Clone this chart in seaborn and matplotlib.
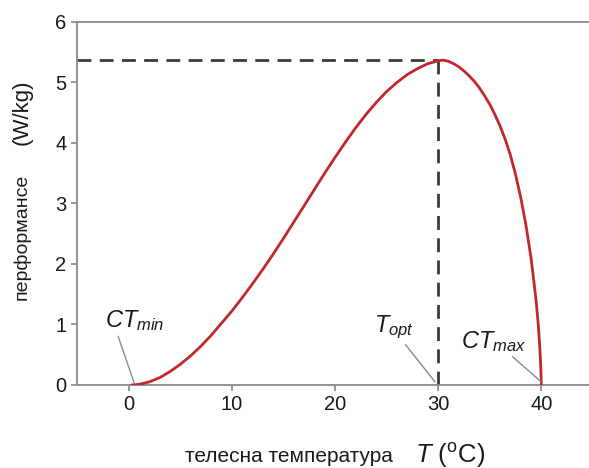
import matplotlib
matplotlib.use("Agg")
import matplotlib.pyplot as plt
import pandas as pd
import seaborn as sns

# curve
temperature = [0.3, 1, 2, 3, 4, 5, 6, 7, 8, 9, 10, 11, 12, 13, 14, 15, 16, 17, 18, 19,
               20, 21, 22, 23, 24, 25, 26, 27, 28, 29, 30, 30.5, 31, 31.5, 32, 32.5,
               33, 33.5, 34, 34.5, 35, 35.5, 36, 36.5, 37, 37.5, 38, 38.5, 39, 39.25,
               39.5, 39.7, 39.85, 39.95, 40.0]
performance = [0.0, 0.01, 0.05, 0.12, 0.22, 0.34, 0.48, 0.64, 0.82, 1.02, 1.22, 1.44,
               1.67, 1.91, 2.16, 2.42, 2.69, 2.96, 3.23, 3.50, 3.76, 4.01, 4.25, 4.47,
               4.67, 4.85, 5.00, 5.13, 5.23, 5.31, 5.36, 5.37, 5.35, 5.31, 5.26, 5.19,
               5.11, 5.02, 4.91, 4.78, 4.64, 4.47, 4.28, 4.06, 3.80, 3.48, 3.10, 2.65,
               2.10, 1.75, 1.38, 1.00, 0.62, 0.28, 0.0]
t_opt = 30
p_max = 5.37
x_ticks = [0, 10, 20, 30, 40]
y_ticks = [0, 1, 2, 3, 4, 5, 6]

sns.set_style("ticks")
plt.rcParams['font.family'] = ['Liberation Sans', 'DejaVu Sans']
plt.rcParams['mathtext.fontset'] = 'custom'
plt.rcParams['mathtext.rm'] = 'Liberation Sans'
plt.rcParams['mathtext.it'] = 'Liberation Sans:italic'

df = pd.DataFrame({'T': temperature, 'P': performance})

fig = plt.figure(figsize=(5.89, 4.68), dpi=100)
ax = fig.add_axes([0.1307, 0.1774, 0.876, 0.7756])

# dashed guide lines to the optimum
ax.plot([-5, t_opt], [p_max, p_max], color='#3a3a3a', lw=2, dashes=(5, 3), zorder=2)
ax.plot([t_opt, t_opt], [0, p_max], color='#3a3a3a', lw=2, dashes=(5, 3), zorder=2)

sns.lineplot(data=df, x='T', y='P', color='#c0282d', lw=2, sort=False, ax=ax, zorder=3)

ax.set_xlim(-5, 45)
ax.set_ylim(0, 6)
ax.set_xticks(x_ticks)
ax.set_yticks(y_ticks)
ax.tick_params(labelsize=14.5, colors='#1a1a1a', length=4, width=1.2, color='#888888')
for side in ['left', 'bottom', 'top']:
    ax.spines[side].set_color('#888888')
    ax.spines[side].set_linewidth(1.3)
ax.spines['right'].set_visible(False)
ax.set_xlabel('')
ax.set_ylabel('')

# annotations
gray = '#8a8a8a'
ax.annotate('$CT_{min}$', xy=(0.55, 0.03), xytext=(0.6, 0.86), fontsize=17,
            ha='center', va='bottom', color='#1a1a1a',
            arrowprops=dict(arrowstyle='-', color=gray, lw=1, shrinkA=0, shrinkB=0,
                            relpos=(0.2, 0.0)))
ax.annotate('$T_{opt}$', xy=(29.7, 0.05), xytext=(25.7, 0.72), fontsize=17,
            ha='center', va='bottom', color='#1a1a1a',
            arrowprops=dict(arrowstyle='-', color=gray, lw=1, shrinkA=0, shrinkB=0,
                            relpos=(0.73, 0.0)))
ax.annotate('$CT_{max}$', xy=(40.0, 0.05), xytext=(35.4, 0.52), fontsize=17,
            ha='center', va='bottom', color='#1a1a1a',
            arrowprops=dict(arrowstyle='-', color=gray, lw=1, shrinkA=0, shrinkB=0,
                            relpos=(0.73, 0.0)))

# axis titles
fig.text(22 / 589, 1 - 237 / 468, 'перформансе', rotation=90, fontsize=14,
         ha='center', va='center', color='#1a1a1a')
fig.text(22 / 589, 1 - 112 / 468, '(W/kg)', rotation=90, fontsize=16,
         ha='center', va='center', color='#1a1a1a')
fig.text(289 / 589, 1 - 457 / 468, 'телесна температура', fontsize=15,
         ha='center', va='center', color='#1a1a1a')
fig.text(450 / 589, 1 - 455 / 468, r'$T$ ($^{\rm o}$C)', fontsize=18.5,
         ha='center', va='center', color='#1a1a1a')

fig.savefig('out.png', dpi=100)
